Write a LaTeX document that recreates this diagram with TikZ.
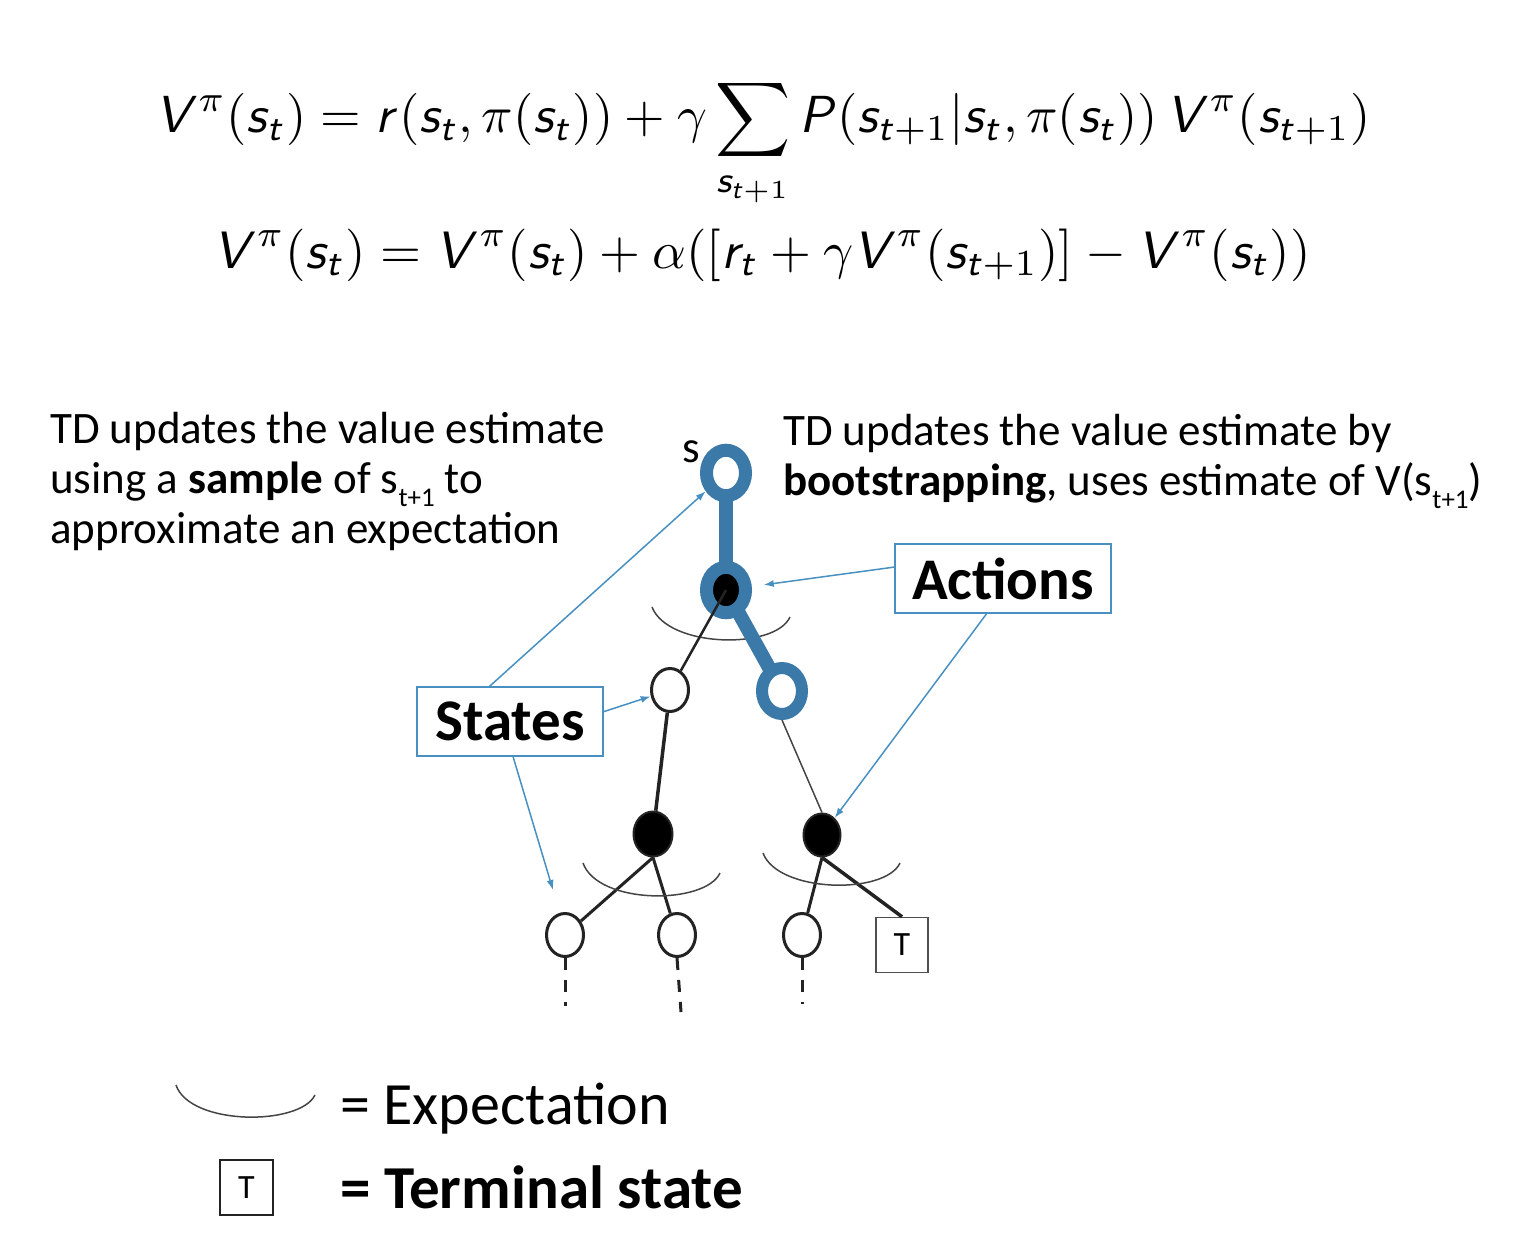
\documentclass[tikz,border=0pt]{standalone}
\usepackage{fontspec}
\setmainfont{Carlito}
\usepackage{graphicx}
\usetikzlibrary{shapes.geometric,arrows.meta,backgrounds,calc}
\DeclareSymbolFont{sfletters}{OT1}{cmss}{m}{sl}
\DeclareSymbolFont{sfdigits}{OT1}{cmss}{m}{n}
\DeclareMathSymbol{V}{\mathalpha}{sfletters}{`V}
\DeclareMathSymbol{s}{\mathalpha}{sfletters}{`s}
\DeclareMathSymbol{t}{\mathalpha}{sfletters}{`t}
\DeclareMathSymbol{r}{\mathalpha}{sfletters}{`r}
\DeclareMathSymbol{P}{\mathalpha}{sfletters}{`P}
\DeclareMathSymbol{1}{\mathalpha}{sfdigits}{`1}
\definecolor{tdblue}{RGB}{58,121,168}
\definecolor{callblue}{RGB}{72,144,194}
\definecolor{ink}{RGB}{35,35,35}
\newcommand\lowsub[1]{\raisebox{-13pt}{\fontsize{27}{27}\selectfont #1}}
\begin{document}
\begin{tikzpicture}[x=1pt,y=-1pt,
  ring/.style={ellipse, draw=tdblue, line width=13pt, inner sep=0pt, minimum width=39pt, minimum height=45.5pt},
  stnode/.style={ellipse, draw=ink, line width=3pt, fill=white, inner sep=0pt, minimum width=37pt, minimum height=43pt},
  actnode/.style={ellipse, draw=ink, line width=2pt, fill=black, inner sep=0pt, minimum width=39pt, minimum height=45pt},
  callbox/.style={rectangle, draw=callblue, line width=1.5pt, inner sep=0pt, font=\fontsize{59}{59}\selectfont\bfseries},
  callarrow/.style={draw=callblue, line width=1.5pt, -{Latex[length=10pt,width=7pt]}},
  expect/.style={draw=ink!85, line width=1.5pt},
  termbox/.style={rectangle, draw=ink!80, line width=1.5pt, minimum width=52pt, minimum height=55pt, inner sep=0pt, font=\fontsize{34}{34}\selectfont},
  txt/.style={inner sep=0pt, anchor=base west, font=\fontsize{45}{50}\selectfont},
  edge/.style={draw=ink, line width=3pt},
  dots/.style={draw=ink, line width=3pt, dash pattern=on 12pt off 10pt},
  thickblue/.style={draw=tdblue, line width=14pt}
]
\useasboundingbox (0,0) rectangle (1526,1236);

% equations
\node[inner sep=0pt, anchor=base west] (eqa) at (155,133)
  {\resizebox{1215pt}{!}{$\displaystyle V^{\pi}(s_t) = r(s_t, \pi(s_t)) + \gamma \sum_{s_{t+1}} P(s_{t+1}|s_t, \pi(s_t))\, V^{\pi}(s_{t+1})$}};
\node[inner sep=0pt, anchor=base west] (eqb) at (213,268)
  {\resizebox{1097pt}{!}{$\displaystyle V^{\pi}(s_t) = V^{\pi}(s_t) + \alpha([r_t + \gamma V^{\pi}(s_{t+1})] - V^{\pi}(s_t))$}};

% texts
\node[txt] (la) at (50,443) {TD updates the value estimate};
\node[txt] (lb) at (50,493) {using a \textbf{sample} of s\lowsub{t+1} to};
\node[txt] (lc) at (50,543) {approximate an expectation};
\node[txt] (ra) at (783,445) {TD updates the value estimate by};
\node[txt] (rb) at (783,495) {\textbf{bootstrapping}, uses estimate of V(s\lowsub{t+1})};
\node[txt] (slab) at (682,462) {s};

% tree nodes
\node[ring, fill=white] (s0) at (726,473) {};
\node[ring, fill=black] (a1) at (726,590) {};
\node[stnode] (s1) at (670,690) {};
\node[ring, fill=white, minimum width=40pt, minimum height=46pt, line width=12pt] (s2) at (782,691) {};
\node[actnode] (a2) at (653,834) {};
\node[actnode, minimum width=37pt, minimum height=43pt] (a3) at (822,835) {};
\node[stnode] (l1) at (565,935) {};
\node[stnode] (l2) at (677,935) {};
\node[stnode] (l3) at (802,935) {};
\node[termbox] (tb) at (902,945) {T};

\begin{scope}[on background layer]
  \draw[expect] (652,607) .. controls (668,648) and (775,650) .. (790,617);
  \draw[thickblue] (s0.center) -- (a1.center);
  \draw[thickblue] (a1.center) -- (s2.center);
\end{scope}

% edges
\draw[edge, line width=2.5pt] (a1.center) -- (s1);
\draw[edge, line width=3.5pt] (s1) -- (a2);
\draw[draw=ink!85, line width=1.5pt] (s2.south) -- (a3.north);
\draw[edge] (a2.south) -- (l1);
\draw[edge] (a2.south) -- (l2);
\draw[edge] (a3.south) -- (l3);
\draw[edge, line width=3.5pt] (a3.south) -- (tb.north);

% expectation arcs
\draw[expect] (583,863) .. controls (598,905) and (705,905) .. (720,873);
\draw[expect] (763,853) .. controls (778,893) and (885,895) .. (900,863);

% dotted continuations
\coordinate (d1) at (565,1006);
\coordinate (d2) at (681,1012);
\coordinate (d3) at (802,1004);
\draw[dots] (l1.south) -- (d1);
\draw[dots] (l2.south) -- (d2);
\draw[dots] (l3.south) -- (d3);

% callouts
\node[callbox, minimum width=216pt, minimum height=69pt] (actbox) at (1003,578.5) {Actions};
\node[callbox, minimum width=186pt, minimum height=69pt] (stbox) at (510,721.5) {States};
\coordinate (sfree) at (553,890);
\draw[callarrow, shorten >=12pt] (actbox.174) -- (a1);
\draw[callarrow] (actbox.245) -- (a3);
\draw[callarrow] (stbox.120) -- (s0);
\draw[callarrow] (stbox.6) -- (s1);
\draw[callarrow] (stbox.275) -- (sfree);

% legend
\draw[expect] (176,1085) .. controls (190,1126) and (300,1126) .. (315,1095);
\node[txt, font=\fontsize{60}{60}\selectfont] (lexp) at (340,1124) {= Expectation};
\node[termbox, draw=ink, line width=2pt, minimum width=53pt] (ltb) at (246.5,1187.5) {T};
\node[txt, font=\fontsize{61}{61}\selectfont\bfseries] (lterm) at (340,1208) {= Terminal state};
\end{tikzpicture}
\end{document}
